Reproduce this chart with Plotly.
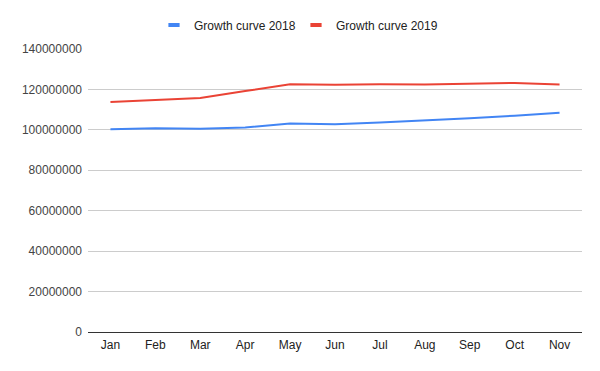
import plotly.graph_objects as go

months = ["Jan", "Feb", "Mar", "Apr", "May", "Jun", "Jul", "Aug", "Sep", "Oct", "Nov"]
growth_2018 = [100300000, 100800000, 100600000, 101200000, 103200000, 102800000,
               103700000, 104600000, 105800000, 107000000, 108500000]
growth_2019 = [113800000, 114700000, 115800000, 119200000, 122600000, 122300000,
               122600000, 122500000, 122700000, 123200000, 122500000]
y_ticks = [0, 20000000, 40000000, 60000000, 80000000, 100000000, 120000000, 140000000]
series_names = ["Growth curve 2018", "Growth curve 2019"]
series_colors = ["#4285F4", "#EA4335"]

fig = go.Figure()
for name, vals, col in zip(series_names, [growth_2018, growth_2019], series_colors):
    fig.add_trace(go.Scatter(x=months, y=vals, mode="lines", name=name,
                             line=dict(color=col, width=2), showlegend=False))
    # legend swatch: short thick bar like the reference
    fig.add_trace(go.Scatter(x=[None], y=[None], mode="markers", name=name,
                             marker=dict(symbol="line-ew", size=8,
                                         line=dict(width=4, color=col)),
                             showlegend=True))

# The page body has an 8px default margin, so the figure is 8px smaller
W, H = 592, 363
fig.update_layout(
    width=W, height=H,
    margin=dict(l=80, r=18, t=41, b=39, autoexpand=False),
    paper_bgcolor="white", plot_bgcolor="white",
    font=dict(family="Liberation Sans, Arial, sans-serif", size=12, color="#222222"),
    legend=dict(orientation="h", xref="container", x=(296 - 8) / W, xanchor="center",
                yref="container", y=1 - 17 / H, yanchor="middle", itemwidth=30,
                entrywidth=97, entrywidthmode="pixels",
                font=dict(size=12, color="#222222")),
    showlegend=True,
)
fig.update_xaxes(type="category", range=[-0.5, len(months) - 0.5], automargin=False,
                 showgrid=False, showline=True, linecolor="#333333",
                 linewidth=1, ticks="", ticklabelstandoff=2,
                 tickfont=dict(size=12, color="#222222"))
fig.update_yaxes(range=[0, 140000000], tickvals=y_ticks, ticktext=[str(v) for v in y_ticks],
                 automargin=False, showgrid=True, gridcolor="#cccccc", gridwidth=1,
                 zeroline=False, showline=False, ticks="", ticklabelstandoff=5,
                 tickfont=dict(size=12, color="#444444"))

fig.write_html("out.html")
